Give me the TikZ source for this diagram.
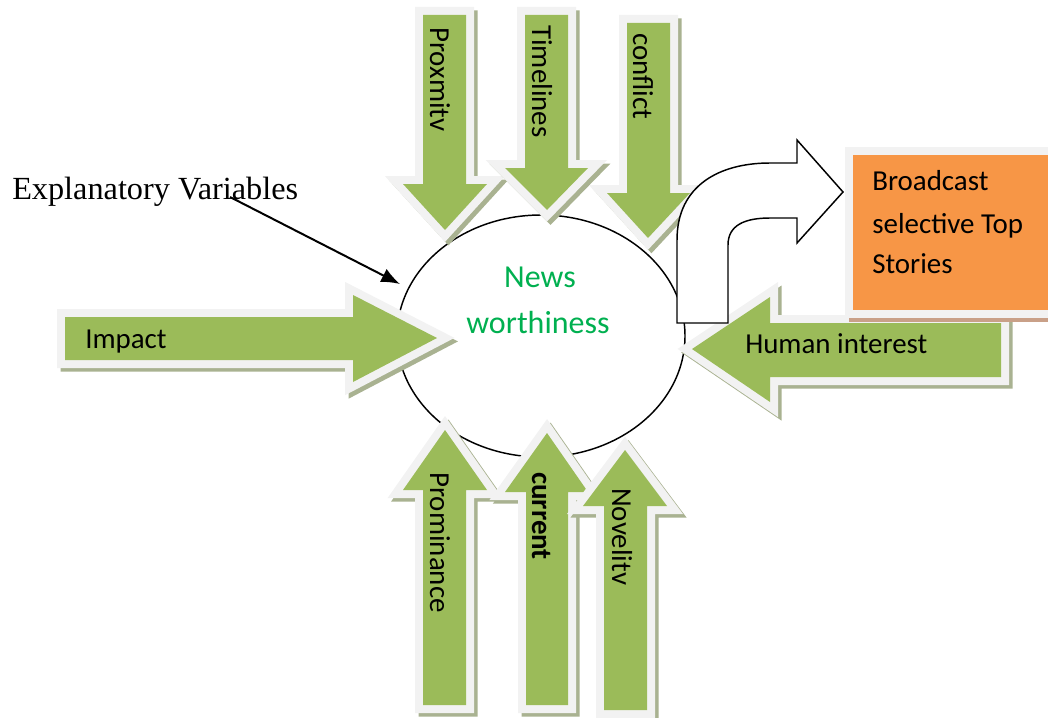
\documentclass[tikz,border=0pt]{standalone}
\usepackage{fontspec}
\usetikzlibrary{shapes.geometric,arrows.meta}
\newfontfamily\calfont{Carlito}
\newfontfamily\tnrfont{Liberation Serif}
\definecolor{agreen}{HTML}{9BBB59}
\definecolor{aborder}{HTML}{F2F2F2}
\definecolor{ashadow}{HTML}{A9B291}
\definecolor{aorange}{HTML}{F79646}
\definecolor{oshadow}{HTML}{C9A088}
\definecolor{newsgreen}{HTML}{00B050}
\tikzset{
  shadowlayer/.style={fill=ashadow,draw=ashadow,line width=12pt,line join=miter,shift={(3.5,3.5)}},
  borderlayer/.style={fill=aborder,draw=aborder,line width=12pt,line join=miter},
  greenlayer/.style={fill=agreen},
  oshadowlayer/.style={fill=oshadow,draw=oshadow,line width=12pt,line join=miter,shift={(4,4)}},
  orangelayer/.style={fill=aorange},
  lbl/.style={font=\calfont\fontsize{21.7pt}{26pt}\selectfont,inner sep=0pt,text=black},
  vlbl/.style={lbl,rotate=-90,anchor=base west},
  newslbl/.style={lbl,font=\calfont\fontsize{24pt}{28pt}\selectfont,text=newsgreen,anchor=base},
}
\newcommand{\fatarrow}[1]{%
  \path[shadowlayer] #1;
  \path[borderlayer] #1;
  \path[greenlayer] #1;}
\begin{document}
\begin{tikzpicture}[x=0.75pt,y=-0.75pt]
\useasboundingbox (0,0) rectangle (1048,717);
\clip (0,0) rectangle (1048,717);
% central ellipse
\node[ellipse,draw=black,fill=white,line width=1.1pt,minimum width=216pt,minimum height=181.5pt,inner sep=0pt] (nw) at (541,336) {};
% explanatory variables
\node[font=\tnrfont\fontsize{24.2pt}{28pt}\selectfont,inner sep=0pt,anchor=base west] (ev) at (12,199) {Explanatory Variables};
\coordinate (evs) at (230,197);
\coordinate (evt) at (400,284);
\draw[line width=1.5pt,-{Latex[length=14pt,width=11pt]}] (evs) -- (evt);
% top arrows
\fatarrow{(423,15) -- (466,15) -- (466,184) -- (487,184) -- (445,230) -- (403,184) -- (423,184) -- cycle}
\fatarrow{(525,15) -- (568,15) -- (568,168) -- (588,168) -- (547,210) -- (505,168) -- (525,168) -- cycle}
\fatarrow{(627,23) -- (670,23) -- (670,193) -- (690,193) -- (648,238) -- (607,193) -- (627,193) -- cycle}
% side arrows
\fatarrow{(65,317) -- (353,317) -- (353,295) -- (437,338) -- (353,382) -- (353,360) -- (65,360) -- cycle}
\fatarrow{(1001,323) -- (770,323) -- (770,297) -- (692,349) -- (770,402) -- (770,377) -- (1001,377) -- cycle}
% bottom arrows
\fatarrow{(423,705) -- (466,705) -- (466,490) -- (487,490) -- (445,430) -- (403,490) -- (423,490) -- cycle}
\fatarrow{(526,705) -- (568,705) -- (568,492) -- (588,492) -- (547,433) -- (505,492) -- (526,492) -- cycle}
\fatarrow{(604,710) -- (647,710) -- (647,506) -- (667,506) -- (625,450) -- (583,506) -- (604,506) -- cycle}
% curved arrow
\draw[fill=white,draw=black,line width=1.1pt,line join=miter]
  (677,323) -- (677,240) .. controls (677,185) and (720,163) .. (770,163) -- (797,163) -- (797,140)
  -- (843,192) -- (797,243) -- (797,218) -- (770,218) .. controls (745,218) and (728,225) .. (728,245)
  -- (728,323) -- cycle;
% orange box
\path[oshadowlayer] (853,155) rectangle (1070,310);
\path[borderlayer] (853,155) rectangle (1070,310);
\path[orangelayer] (853,155) rectangle (1070,310);
% texts
\node[newslbl] (news1) at (540,287) {News};
\node[newslbl] (news2) at (538,333) {worthiness};
\node[lbl,anchor=base west] (bc1) at (872,190) {Broadcast};
\node[lbl,anchor=base west] (bc2) at (872,233) {selective Top};
\node[lbl,anchor=base west] (bc3) at (872,273) {Stories};
\node[lbl,anchor=base west] (imp) at (85,348) {Impact};
\node[lbl,anchor=base west] (hum) at (745,353) {Human interest};
\node[vlbl] (prox) at (430,27) {Proxmitv};
\node[vlbl] (time) at (532,25) {Timelines};
\node[vlbl] (conf) at (633,33) {conflict};
\node[vlbl] (prom) at (430,472) {Prominance};
\node[vlbl,font=\calfont\bfseries\fontsize{21.7pt}{26pt}\selectfont] (curr) at (532,472) {current};
\node[vlbl] (nove) at (612,488) {Novelitv};
\end{tikzpicture}
\end{document}
